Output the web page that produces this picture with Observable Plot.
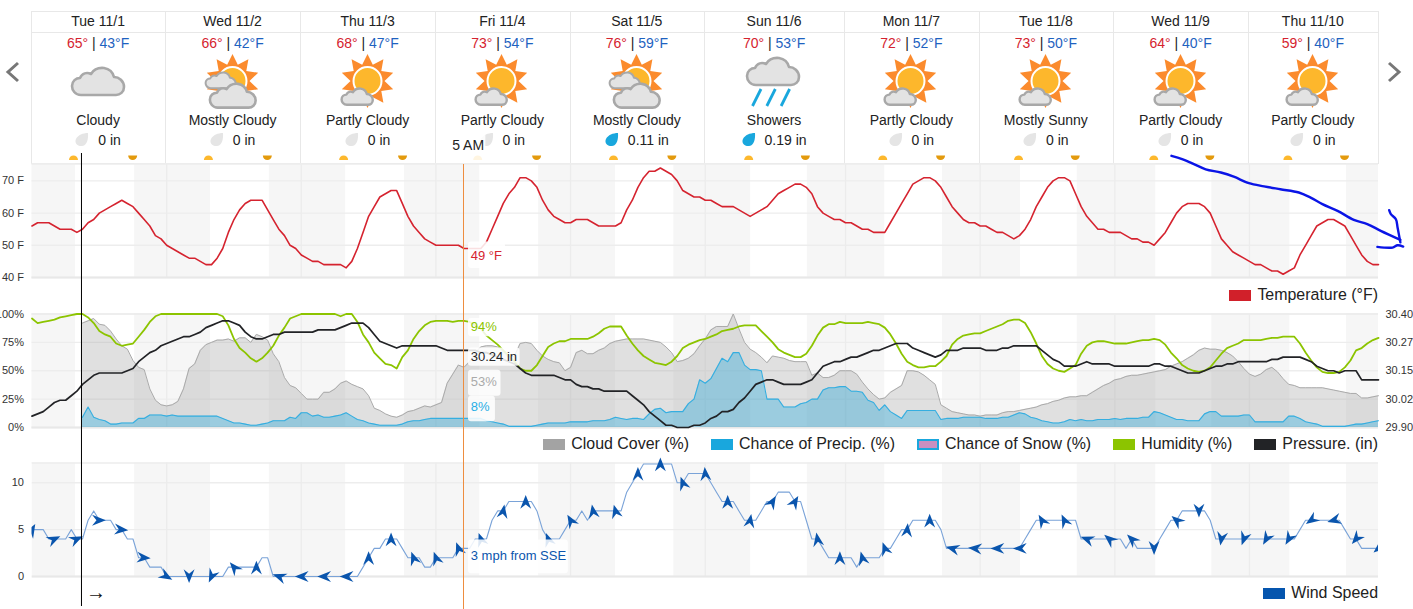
<!DOCTYPE html>
<html><head><meta charset="utf-8">
<script src="https://cdn.jsdelivr.net/npm/d3@7"></script>
<script src="https://cdn.jsdelivr.net/npm/@observablehq/plot@0.6"></script>
<style>
html,body{margin:0;padding:0;background:#fff;width:1413px;height:609px;overflow:hidden;font-family:"Liberation Sans",Arial,sans-serif;color:#222}
#root{position:absolute;left:0;top:0;width:1413px;height:609px}
.abs{position:absolute}
.line{position:absolute;background:#e8e8e8}
.c{position:absolute;text-align:center;font-size:14px;white-space:nowrap;line-height:16px}
.lg{position:absolute;display:flex;align-items:center;font-size:15.95px;white-space:nowrap;line-height:18px;color:#222}
.sw{display:inline-block;width:22px;height:11px;margin-right:6px;box-sizing:border-box}
</style></head><body><div id="root"></div>
<script>
// ---- header table
const dayLabels=["Tue 11/1","Wed 11/2","Thu 11/3","Fri 11/4","Sat 11/5","Sun 11/6","Mon 11/7","Tue 11/8","Wed 11/9","Thu 11/10"];
const highs=[65,66,68,73,76,70,72,73,64,59];
const lows=[43,42,47,54,59,53,52,50,40,40];
const conditions=["Cloudy","Mostly Cloudy","Partly Cloudy","Partly Cloudy","Mostly Cloudy","Showers","Partly Cloudy","Mostly Sunny","Partly Cloudy","Partly Cloudy"];
const iconKinds=["cloudy","mostly","partly","partly","mostly","showers","partly","partly","partly","partly"];
const rainfall=["0","0","0","0","0.11","0.19","0","0","0","0"];
const columnEdges=[31.5,165.5,300.5,435.5,570,704.5,844.5,979,1113.5,1248.5,1378];

// ---- hourly series, one value per hour from midnight 11/1
const temperature=[
56,57,57,57,56,55,55,55,54,55,
57,58,60,61,62,63,64,63,62,60,
58,56,53,52,50,49,48,47,46,46,
45,44,44,46,49,54,58,61,63,64,
64,64,61,58,55,53,50,49,47,46,
45,45,44,44,44,44,43,45,49,54,
59,62,65,66,67,67,63,59,56,54,
52,51,50,50,50,50,50,49,49,49,
49,51,55,59,63,66,68,71,71,70,
68,64,61,59,58,57,57,58,58,58,
57,56,56,56,56,57,61,64,68,71,
73,73,74,73,72,70,67,66,65,65,
64,64,63,62,62,62,61,60,59,60,
61,62,64,66,67,68,69,69,68,66,
62,60,59,58,58,57,57,56,55,55,
54,54,54,57,60,63,66,69,70,71,
71,70,68,65,62,60,58,57,57,56,
56,55,54,54,53,52,53,55,58,62,
65,68,70,71,71,70,66,62,59,57,
55,55,54,54,54,53,52,52,51,51,
50,52,54,57,60,62,63,63,63,62,
60,56,52,50,48,47,46,45,44,44,
43,42,42,41,42,43,47,50,53,56,
57,58,58,57,56,53,50,47,45,44,
44];
const humidity=[
96,92,93,94,95,97,98,99,100,100,
97,92,85,82,80,74,72,73,74,80,
86,93,98,100,100,100,100,100,100,100,
100,100,100,100,98,90,78,70,66,61,
58,61,66,72,81,88,96,98,100,100,
100,100,100,100,100,98,100,100,93,82,
75,66,61,56,55,52,62,68,78,85,
90,93,94,94,94,93,94,94,93,90,
87,81,77,73,68,63,58,52,50,50,
55,63,71,74,76,76,78,78,78,78,
80,83,87,89,89,89,81,74,68,63,
60,57,56,55,58,63,70,73,75,77,
78,80,82,85,86,87,89,90,90,90,
85,80,75,69,66,64,62,62,65,72,
81,88,91,91,93,92,92,92,92,93,
92,91,88,82,74,65,58,55,53,53,
54,54,58,63,73,78,81,82,83,83,
85,87,89,91,94,95,95,92,84,74,
63,56,52,50,49,52,55,65,72,75,
76,76,75,74,74,74,75,76,77,77,
78,77,73,66,61,55,52,50,49,50,
53,59,65,70,72,74,77,77,77,77,
78,79,79,80,80,80,74,66,59,53,
49,48,48,49,53,59,68,70,74,77,
79];
const pressure=[
29.95,29.96,29.97,29.99,30.01,30.02,30.02,30.04,30.06,30.09,
30.11,30.13,30.14,30.14,30.14,30.14,30.14,30.15,30.16,30.19,
30.21,30.23,30.24,30.26,30.27,30.28,30.29,30.30,30.30,30.31,
30.32,30.34,30.35,30.36,30.37,30.37,30.36,30.35,30.32,30.30,
30.29,30.29,30.30,30.31,30.31,30.32,30.32,30.32,30.32,30.32,
30.32,30.33,30.33,30.33,30.33,30.34,30.35,30.36,30.36,30.36,
30.34,30.31,30.28,30.27,30.26,30.25,30.26,30.26,30.26,30.26,
30.26,30.26,30.26,30.25,30.24,30.24,30.24,30.24,30.24,30.24,
30.23,30.23,30.22,30.21,30.20,30.19,30.18,30.16,30.14,30.13,
30.13,30.13,30.13,30.13,30.12,30.11,30.11,30.09,30.08,30.08,
30.07,30.07,30.06,30.06,30.06,30.06,30.06,30.04,30.02,30.00,
29.97,29.95,29.93,29.91,29.91,29.90,29.90,29.90,29.91,29.91,
29.92,29.94,29.95,29.97,29.97,29.98,30.01,30.03,30.06,30.09,
30.10,30.11,30.11,30.10,30.09,30.09,30.09,30.09,30.10,30.11,
30.14,30.17,30.18,30.19,30.19,30.20,30.21,30.21,30.22,30.23,
30.24,30.24,30.25,30.26,30.27,30.27,30.27,30.25,30.24,30.23,
30.22,30.21,30.22,30.24,30.24,30.24,30.25,30.25,30.25,30.25,
30.24,30.24,30.24,30.25,30.25,30.26,30.26,30.26,30.26,30.26,
30.24,30.22,30.20,30.19,30.17,30.17,30.17,30.18,30.19,30.18,
30.18,30.18,30.18,30.17,30.17,30.17,30.17,30.17,30.17,30.17,
30.18,30.18,30.17,30.17,30.16,30.15,30.14,30.14,30.14,30.15,
30.16,30.17,30.17,30.18,30.18,30.19,30.19,30.19,30.19,30.19,
30.19,30.20,30.20,30.21,30.21,30.21,30.21,30.20,30.19,30.17,
30.16,30.15,30.15,30.14,30.15,30.15,30.15,30.11,30.11,30.11,
30.11];
const forecastStart=9; // cloud and precipitation begin at this hour
const cloudCover=[92,
94,96,91,90,85,78,72,69,59,53,
51,34,24,20,19,20,23,34,52,56,
68,73,75,77,77,78,76,79,79,75,
82,80,77,65,58,44,37,35,30,25,
25,25,31,31,34,39,41,38,36,34,
28,17,15,12,10,9,11,14,15,17,
19,18,20,22,39,47,55,53,58,66,
71,72,72,71,67,61,63,74,75,74,
68,63,60,58,57,50,53,66,68,65,
65,68,70,74,76,77,78,78,78,78,
77,76,75,71,66,58,59,61,65,72,
78,86,89,89,89,100,87,75,69,66,
62,57,63,62,61,59,58,58,58,46,
48,44,44,46,50,50,50,47,40,34,
29,25,26,31,34,37,50,50,49,46,
42,38,20,17,14,13,12,11,11,10,
11,11,11,13,14,14,15,16,17,18,
20,21,23,24,26,27,27,28,28,31,
34,37,39,42,43,45,46,46,47,48,
49,50,51,54,56,58,61,64,68,70,
69,69,68,66,63,58,52,47,45,47,
51,53,49,43,38,37,35,35,35,35,
35,34,33,32,31,30,30,26,26,27,
28];
const precipChance=[9,
18,9,7,6,3,3,4,4,4,8,
8,11,11,11,10,11,10,10,10,10,
10,10,10,10,8,6,4,4,3,2,
2,3,4,6,6,6,9,8,13,13,
10,11,9,9,10,11,13,10,7,6,
4,3,2,2,2,2,3,5,6,6,
7,8,8,8,8,8,8,8,8,8,
8,6,5,4,3,1,1,1,1,1,
2,3,4,4,4,4,5,5,5,5,
6,6,6,7,9,8,7,8,8,7,
12,16,17,13,14,14,14,21,25,42,
39,43,52,61,58,66,66,55,51,51,
50,25,25,25,18,18,18,21,22,25,
25,33,35,35,36,36,32,32,31,24,
22,15,20,14,11,8,15,15,15,15,
15,15,7,8,8,8,9,9,9,9,
8,8,8,9,9,11,13,12,9,8,
6,5,4,4,5,7,6,7,6,6,
7,7,7,8,7,8,8,8,9,9,
14,13,11,9,7,7,6,6,6,12,
14,14,10,10,10,10,11,11,5,5,
5,5,5,5,10,10,8,5,4,3,
1,1,1,1,1,2,3,3,4,5,
6];
const windSpeed=[
5,5,5,4,4,4,4,5,4,4,
6,7,6,6,6,5,5,4,4,2,
2,1,1,1,0,0,0,0,0,0,
0,0,0,0,0,1,1,1,1,1,
1,2,2,0,0,0,0,0,0,0,
0,0,0,0,0,0,0,0,0,1,
2,3,3,4,4,4,3,2,2,2,
1,1,2,2,2,2,3,3,3,4,
4,4,6,7,7,8,8,8,8,8,
7,5,4,4,4,5,6,6,7,6,
7,7,7,7,7,7,9,10,11,12,
12,12,12,12,12,10,10,11,11,11,
11,10,9,8,8,8,7,6,6,6,
7,8,8,9,9,9,8,8,6,4,
4,3,2,2,2,2,2,1,2,2,
2,2,3,3,4,5,5,6,6,6,
6,6,5,3,3,3,3,3,3,3,
3,3,3,3,3,3,3,4,5,6,
6,6,6,6,6,6,6,4,4,4,
4,4,4,4,4,3,4,3,3,3,
3,4,5,6,6,7,7,7,7,7,
6,4,4,4,4,4,4,4,4,4,
4,4,4,4,4,4,5,6,6,6,
6,6,6,6,5,4,4,3,3,3,
3];
const windEvery=4; // one arrow each 4 hours, heading in degrees
const windHeading=[
30,65,65,90,95,95,120,180,205,320,
0,290,270,270,270,0,0,340,340,340,
340,10,0,340,330,350,345,0,0,340,
355,0,10,30,30,350,0,345,340,5,
0,285,275,270,270,330,335,290,310,315,
180,310,180,190,200,210,210,235,255,220,
230];

// ---- time axis
const lastHour=240;
const sunrise=[7.75,31.8,55.9,79.8,104,128.1,152,176.2,200.3,224.2];
const sunset=[18.3,42.3,66.4,90.3,114.4,138.2,162.3,186.3,210.3,234.3];
const dayStarts=[24,48,72,96,120,145,169,193,217];
const nowHour=8.82;
const cursorHour=77;

// ---- pen annotation drawn on the temperature panel (hour, °F, stroke)
const penHours=[203.1,205,207.1,209.2,211.9,214.2,216.9,219.6,222.5,225.8,227.9,230,232.7,235.6,238,240.4,243.9, 241.9,242.2,243.1,243.4,243.9, 239.8,242.5,243.4,244.4];
const penTemps=[77.8,76.8,75.2,73.6,72.6,71.3,69.3,68.3,67.4,66.4,64.8,62.8,60.7,57.9,56.6,54.5,51.7, 60.9,59.7,58.1,55.5,50.9, 49.5,49.3,50,49.6];
const penStroke=[0,0,0,0,0,0,0,0,0,0,0,0,0,0,0,0,0, 1,1,1,1,1, 2,2,2,2];

// ---- axes
const tempTicks=[40,50,60,70];
const pctTicks=[0,25,50,75,100];
const pressureTicks=["29.90","30.02","30.15","30.27","30.40"];
const windTicks=[0,5,10];

// ---- colours
const RED="#d5232f",BLUE="#0a55ad",GREEN="#8cc400",DARK="#222326",SKY="#19a7dd",GRAY="#a3a3a3";

const root=document.getElementById("root");
const el=(cls,css,html)=>{const d=document.createElement("div");d.className=cls;d.style.cssText=css;if(html!=null)d.innerHTML=html;root.appendChild(d);return d;};

// header frame
const HL=31,HR=1378;
[[11,HL,HR],[32,HL,HR],[163,HL,HR]].forEach(([y,a,b])=>el("line",`left:${a}px;top:${y}px;width:${b-a}px;height:1px`));
columnEdges.forEach(x=>el("line",`left:${Math.floor(x)}px;top:11px;width:1px;height:153px`));

// icons
const cloudPath="M10,28 C4,28 1,23 1,19 C1,14 5,11 9,11 C11,6 16,5 20,7 C23,2 28,.5 33,1 C39,2 42,6 43,10 C48,10 53,14 53,20 C53,25 49,28 45,28 Z";
const cloud=(x,y,s,sw)=>`<g transform="translate(${x},${y}) scale(${s})"><path d="${cloudPath}" fill="#e3e3e3" stroke="#a8a8a8" stroke-width="${(sw||2.6)/s}" stroke-linejoin="round"/></g>`;
const rays=(cx,cy,R,r,n)=>{let p="";for(let i=0;i<2*n;i++){const a=Math.PI*i/n-Math.PI/2,q=i%2?r:R;p+=(i?"L":"M")+(cx+q*Math.cos(a)).toFixed(1)+","+(cy+q*Math.sin(a)).toFixed(1);}return p+"Z";};
const sun=(cx,cy)=>`<path d="${rays(cx,cy,27,17,10)}" fill="#fb8b2d"/><circle cx="${cx}" cy="${cy}" r="14" fill="#fdb72c" stroke="#fff" stroke-width="2"/>`;
const icons={
 cloudy:cloud(13,15,1,2.6),
 showers:cloud(12,5,1,2.6)+[0,1,2].map(i=>`<line x1="${27+i*14.3}" y1="37" x2="${18.5+i*14.3}" y2="54" stroke="#19a7dd" stroke-width="2.8"/>`).join(""),
 partly:sun(39.5,29)+cloud(13,36,.6,2.4),
 mostly:sun(39.5,29)+cloud(12,20,.58,2)+cloud(16,31,.88,2.6)
};
const dropPath="M13,0 C8,0 3,2 1,6 C-1,10 3,13.6 7,13 C11,12.6 13.6,8 13,0Z";
dayLabels.forEach((d,i)=>{
 const a=columnEdges[i]-.4,b=columnEdges[i+1]-.4,w=b-a,cssBox=`left:${a}px;width:${w}px;`;
 el("c",cssBox+"top:13px",d);
 el("c",cssBox+"top:35px",`<span style="color:${RED}">${highs[i]}°</span> | <span style="color:#1e62c0">${lows[i]}°F</span>`);
 el("abs",`left:${(a+b)/2-40}px;top:52px;width:80px;height:60px`,`<svg width="80" height="60" style="overflow:visible">${icons[iconKinds[i]]}</svg>`);
 el("c",cssBox+"top:112px",conditions[i]);
 const wet=rainfall[i]!=="0";
 el("c",cssBox+"top:132px;display:flex;justify-content:center;align-items:center;height:16px",
  `<svg width="14" height="14" style="margin-right:9px"><path d="${dropPath}" fill="${wet?SKY:"#e5e5e5"}"/></svg><span>${rainfall[i]} in</span>`);
});
// chevrons
el("abs","left:5px;top:61px",`<svg width="15" height="22"><path d="M13,2 L3,11 L13,20" fill="none" stroke="#777" stroke-width="3"/></svg>`);
el("abs","left:1387px;top:61px",`<svg width="15" height="22"><path d="M2,2 L12,11 L2,20" fill="none" stroke="#777" stroke-width="3"/></svg>`);

// legends
const legend=(y,items)=>{const d=el("lg",`right:${1413-1378}px;top:${y}px`);
 items.forEach(([t,c,extra,gap])=>{const s=document.createElement("span");s.className="sw";s.style.cssText=`background:${c};${extra||""}`;d.appendChild(s);
  const n=document.createElement("span");n.textContent=t;if(gap)n.style.marginRight=gap+"px";d.appendChild(n);});};
legend(286,[["Temperature (°F)","#d1202a"]]);
legend(435,[["Cloud Cover (%)",GRAY,"",22],["Chance of Precip. (%)",SKY,"",22],["Chance of Snow (%)","#c88fc0",`border:2px solid ${SKY}`,22],["Humidity (%)",GREEN,"",22],["Pressure. (in)",DARK]]);
legend(584,[["Wind Speed","#0555ae"]]);

// shared plot bits
const nights=[[0,sunrise[0]],...sunset.map((s,i)=>[s,i<sunrise.length-1?sunrise[i+1]:lastHour])];
const base=(top,h,mT,mB,yDomain)=>({
 width:1413,height:h,marginLeft:31.5,marginRight:35,marginTop:mT,marginBottom:mB,
 x:{domain:[0,lastHour],axis:null},y:{domain:yDomain,axis:null},
 style:{background:"transparent",overflow:"visible",fontFamily:'"Liberation Sans",Arial,sans-serif',fontSize:"11px",position:"absolute",left:"0",top:top+"px",maxWidth:"none",color:"#333"}
});
const frameMarks=(yTicks,yTop)=>[
 Plot.rect(nights,{x1:d=>d[0],x2:d=>d[1],fill:"#f6f6f6"}),
 Plot.ruleY(yTicks,{stroke:"#ededed",strokeWidth:1.4}),
 Plot.ruleX(dayStarts,{stroke:"#ececec",strokeWidth:1.3}),
 Plot.ruleY([yTop],{stroke:"#ececec",strokeWidth:1.5}),
 Plot.ruleY([yTicks[0]],{stroke:"#e8e8e8",strokeWidth:2})
];
const labelBox=(x1,x2,y1,y2)=>Plot.rect([0],{x1:()=>x1,x2:()=>x2,y1:()=>y1,y2:()=>y2,fill:"#fff",fillOpacity:.86,rx:3});
const tip=(t,h,y,color)=>Plot.text([t],{x:()=>h,y:()=>y,text:d=>d,fill:color,textAnchor:"start",fontSize:13});

// Temperature panel
const TEMP_TOP=40+(277-163.5)/3.22;
root.appendChild(Plot.plot({...base(145,150,18.5,18,[40,TEMP_TOP]),marks:[
 ...frameMarks(tempTicks,TEMP_TOP),
 Plot.line(temperature,{x:(d,i)=>i,y:d=>d,stroke:RED,strokeWidth:1.6}),
 labelBox(77.8,84.4,42.8,51),
 tip("49 °F",78.2,46.8,RED),
 Plot.axisY({ticks:tempTicks,tickFormat:d=>d+" F",anchor:"left",tickSize:0,tickPadding:8,label:null,fontSize:11}),
 Plot.line(penHours.map((h,i)=>({h,t:penTemps[i],s:penStroke[i]})),{x:"h",y:"t",z:"s",stroke:"#0a14e6",strokeWidth:2.4,curve:"catmull-rom"})
]}));

// Clouds, precipitation, humidity, pressure panel (right axis shares the left scale)
const toPct=p=>(p-29.9)/0.5*100;
root.appendChild(Plot.plot({...base(300,140,13.5,13,[0,100]),marks:[
 ...frameMarks(pctTicks,100),
 Plot.areaY(cloudCover,{x:(d,i)=>i+forecastStart,y:d=>d,fill:"#a0a0a0",fillOpacity:.32}),
 Plot.line(cloudCover,{x:(d,i)=>i+forecastStart,y:d=>d,stroke:"#aaa",strokeWidth:1}),
 Plot.areaY(precipChance,{x:(d,i)=>i+forecastStart,y:d=>d,fill:SKY,fillOpacity:.35}),
 Plot.line(precipChance,{x:(d,i)=>i+forecastStart,y:d=>d,stroke:"#35aee0",strokeWidth:1.1}),
 Plot.line(humidity,{x:(d,i)=>i,y:d=>d,stroke:GREEN,strokeWidth:1.8}),
 Plot.line(pressure,{x:(d,i)=>i,y:d=>toPct(d),stroke:DARK,strokeWidth:1.7}),
 labelBox(77.8,83,80,96),
 labelBox(77.8,87,54,70),
 labelBox(77.8,83.6,27.5,50.5),
 labelBox(77.8,82.6,5,27.5),
 tip("94%",78.2,88.5,"#8cc400"),
 tip("30.24 in",78.2,62,DARK),
 tip("53%",78.2,40,"#aaa"),
 tip("8%",78.2,18,"#29aee5"),
 Plot.axisY({ticks:pctTicks,tickFormat:d=>d+"%",anchor:"left",tickSize:0,tickPadding:8,label:null,fontSize:11}),
 Plot.axisY({ticks:pctTicks,tickFormat:(d,i)=>pressureTicks[pctTicks.indexOf(d)],anchor:"right",tickSize:0,tickPadding:7,label:null,fontSize:11})
]}));

// Wind panel
const WIND_TOP=(576-462.5)/9.37;
const windArrow={draw(ctx,l){const w=l*.42;ctx.moveTo(0,-l);ctx.lineTo(w,l*.06);ctx.lineTo(0,-l*.28);ctx.lineTo(-w,l*.06);ctx.closePath();}};
const arrowHours=d3.range(0,lastHour+1,windEvery);
root.appendChild(Plot.plot({...base(450,140,12.5,14,[0,WIND_TOP]),marks:[
 ...frameMarks(windTicks,WIND_TOP),
 Plot.line(windSpeed,{x:(d,i)=>i,y:d=>d,stroke:"#7aa3d8",strokeWidth:1.1}),
 Plot.vector(arrowHours,{x:h=>h,y:h=>windSpeed[h],rotate:(h,i)=>windHeading[i],length:13,anchor:"middle",shape:windArrow,fill:BLUE,stroke:"none"}),
 // the arrows at both ends are cut at the edge of the plot frame
 Plot.rect([0],{x1:()=>-6,x2:()=>0,y1:()=>-2,y2:()=>WIND_TOP,fill:"#fff"}),
 Plot.rect([0],{x1:()=>lastHour,x2:()=>lastHour+6,y1:()=>-2,y2:()=>WIND_TOP,fill:"#fff"}),
 labelBox(77.8,95.6,.3,3.9),
 tip("3 mph from SSE",78.2,2.2,BLUE),
 Plot.axisY({ticks:windTicks,anchor:"left",tickSize:0,tickPadding:8,label:null,fontSize:11})
]}));

// Page-wide overlay: sun markers, cursors
const halfUp={draw(c,s){const r=Math.sqrt(s/Math.PI);c.arc(0,0,r,Math.PI,0);c.closePath();}};
const halfDown={draw(c,s){const r=Math.sqrt(s/Math.PI);c.arc(0,0,r,0,Math.PI);c.closePath();}};
const PAGE={sunY:159.5,setY:155,lineTop:153,lineBottom:606,cursorTop:164,cursorBottom:609,arrowY:592.5,labelY:145};
root.appendChild(Plot.plot({width:1413,height:609,marginLeft:31.5,marginRight:35,marginTop:0,marginBottom:0,
 x:{domain:[0,lastHour],axis:null},y:{domain:[0,609],range:[0,609],axis:null},
 style:{background:"transparent",overflow:"visible",fontFamily:'"Liberation Sans",Arial,sans-serif',position:"absolute",left:"0",top:"0",maxWidth:"none"},
 marks:[
  Plot.dot(sunrise,{x:d=>d,y:()=>PAGE.sunY,r:4.5,symbol:halfUp,fill:"#fdb82d",stroke:"none",dx:-2}),
  Plot.dot(sunset,{x:d=>d,y:()=>PAGE.setY,r:4.5,symbol:halfDown,fill:"#e39a0d",stroke:"none",dx:-2}),
  Plot.rect([0],{x1:()=>cursorHour-2.9,x2:()=>cursorHour+3.9,y1:()=>134,y2:()=>163,fill:"#fff",fillOpacity:.86}),
  Plot.text(["5 AM"],{x:()=>cursorHour-2.1,y:()=>PAGE.labelY,text:d=>d,textAnchor:"start",fontSize:14,fill:"#222"}),
  Plot.ruleX([nowHour],{y1:()=>PAGE.lineTop,y2:()=>PAGE.lineBottom,stroke:"#000",strokeWidth:1}),
  Plot.ruleX([cursorHour],{y1:()=>PAGE.cursorTop,y2:()=>PAGE.cursorBottom,stroke:"#ee8d3f",strokeWidth:1,dx:-.5}),
  Plot.text(["→"],{x:()=>11.4,y:()=>PAGE.arrowY,text:d=>d,fontSize:20,fill:"#111"})
 ]}));
</script></body></html>
